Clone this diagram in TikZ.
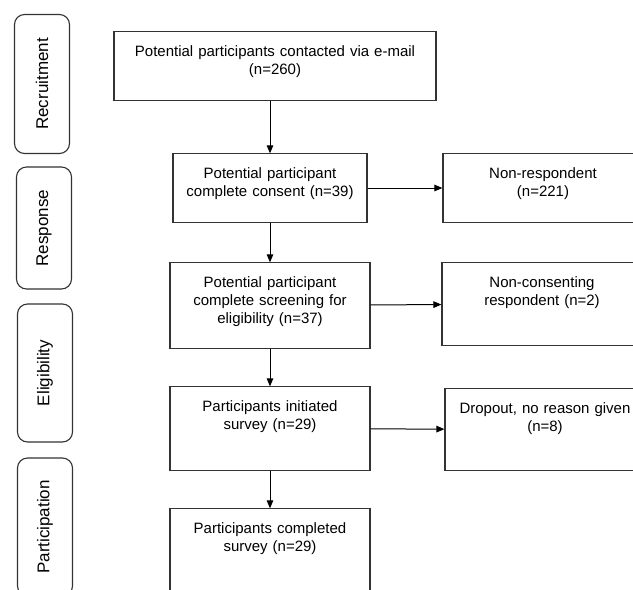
\documentclass[tikz,border=0pt]{standalone}
\usepackage{fontspec}
\setmainfont{Liberation Sans}
\usetikzlibrary{shapes.geometric, arrows.meta}
\definecolor{boxline}{HTML}{333333}
\tikzstyle{stage} = [rectangle, text width=188pt, inner xsep=6pt, inner ysep=14pt,
text centered, align=center, draw=boxline, line width=1.1pt, font=\fontsize{15}{18}\selectfont]
\tikzstyle{phase} = [rectangle, rounded corners=10pt, rotate=90, minimum height=55pt,
draw=boxline, line width=1.1pt, font=\fontsize{17}{20}\selectfont]
\tikzstyle{arrow} = [line width=1pt, ->, >={Triangle[length=8pt,width=6.5pt]}]

\begin{document}
\begin{tikzpicture}[x=1pt, y=1pt, node distance=122pt]
\clip (0,0) rectangle (633,-590);

% ------------------------- phases -------------------------
\node(rec)[phase, minimum width=139pt] at (42,-84) {Recruitment};
\node(resp)[phase, minimum width=122pt] at (44,-228) {Response};
\node(elig)[phase, minimum width=138pt] at (45,-373) {Eligibility};
\node(part)[phase, minimum width=138pt] at (45,-527) {Participation};

% ------------------------- nodes -------------------------
% ----- node: 0
\node(0)[stage, text width=310pt, text depth=29.3pt] at (275,-66) {Potential participants contacted via e-mail\\(n=260)};
% ----- node: 1
\node(1)[stage, below of=0, xshift=-5pt, text width=182pt, text depth=29.3pt]{Potential participant\\complete consent (n=39)};
\node(out1)[stage, right of=1, xshift=151pt, text depth=30.3pt]{Non-respondent\\(n=221)};
% ----- node: 2
\node(2)[stage, below of=1, yshift=4.5pt, text depth=46.3pt]{Potential participant\\complete screening for\\eligibility (n=37)};
\node(out2)[stage, right of=2, xshift=150pt, yshift=1.5pt, text depth=43.3pt]{Non-consenting\\respondent (n=2)};
% ----- node: 3
\node(3)[stage, below of=2, yshift=-1pt, text depth=44.3pt]{Participants initiated\\survey (n=29)};
\node(out3)[stage, right of=3, xshift=153pt, yshift=-1pt, text depth=42.3pt]{Dropout, no reason given\\(n=8)};
% ----- node: 4
\node(4)[stage, below of=3, text depth=44.3pt]{Participants completed\\survey (n=29)};

% ------------------------- connections -------------------------
\draw[arrow](0.south -| 1.north)--(1.north);
\draw[arrow](1)--(out1);
\draw[arrow](1)--(2);
\draw[arrow](2)--(out2);
\draw[arrow](2)--(3);
\draw[arrow](3)--(out3);
\draw[arrow](3)--(4);
\end{tikzpicture}
\end{document}
